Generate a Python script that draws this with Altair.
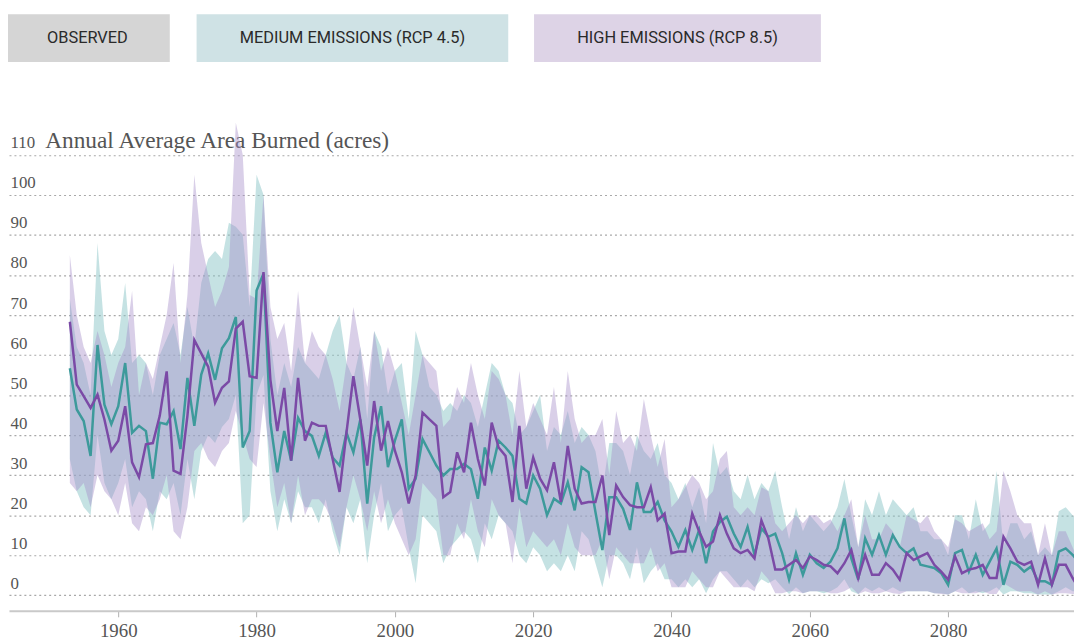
import altair as alt
import pandas as pd

# ---------------- data ----------------
years = list(range(1953, 2100))

# High emissions (RCP 8.5) median, lower and upper envelope
rcp85_mid = [
    68.3, 52.6, 49.7, 46.8, 50.1, 43.9, 36.1, 38.6, 47.2, 33.2, 29.5, 37.7, 38.0, 44.8, 55.9, 31.1, 30.3, 44.8, 63.7, 60.4, 57.1, 48.1, 51.8, 53.4, 66.6,
    68.3, 54.7, 54.3, 80.7, 53.8, 41.0, 51.8, 33.6, 54.3, 38.6, 43.1, 42.3, 42.3, 34.0, 25.8, 40.6, 54.7, 43.9, 32.4, 48.5, 36.1, 43.5, 36.1, 30.7,
    22.9, 29.9, 45.6, 43.9, 42.3, 24.5, 25.8, 35.7, 30.7, 43.1, 34.0, 27.4, 43.1, 36.9, 34.8, 23.3, 42.3, 26.6, 34.4, 29.1, 26.2, 33.2, 23.3, 37.3, 26.6,
    22.9, 23.3, 23.3, 29.9, 15.0, 27.4, 24.5, 22.5, 22.0, 22.0, 27.0, 18.7, 20.4, 10.5, 10.9, 10.9, 20.4, 15.9, 12.1, 13.4, 20.0, 15.4, 11.7, 10.5,
    11.3, 9.2, 18.7, 14.2, 6.4, 6.4, 7.6, 8.8, 6.8, 9.7, 8.8, 7.6, 7.2, 5.5, 8.0, 11.3, 4.3, 10.1, 5.1, 5.1, 8.0, 6.4, 3.9, 10.5, 8.8,
    9.7, 10.5, 7.6, 5.9, 3.9, 9.7, 5.5, 6.4, 6.8, 7.6, 4.3, 4.3, 14.6, 11.7, 8.4, 7.6, 8.4, 2.6, 9.2, 2.6, 7.6, 7.6, 4.3, 1.5,
]
rcp85_low = [
    28, 26, 28, 22, 30, 26, 24, 20, 28, 18, 16, 22, 20, 24, 30, 16, 14, 22, 36, 38, 34, 32, 36, 38, 46,
    40, 34, 32, 48, 34, 22, 28, 18, 30, 20, 24, 24, 22, 18, 12, 22, 30, 24, 16, 26, 18, 24, 18, 14,
    10, 14, 28, 26, 24, 10, 10, 18, 14, 24, 16, 12, 24, 20, 18, 8, 22, 12, 16, 14, 12, 14, 10, 18, 12,
    10, 10, 10, 14, 4, 12, 10, 8, 8, 8, 12, 6, 8, 2, 2, 2, 6, 4, 2, 2, 6, 4, 2, 2,
    2, 1, 6, 4, 0.5, 0.5, 1, 1, 0.5, 1, 1, 1, 0.5, 0.5, 1, 2, 0.3, 1, 0.5, 0.5, 1, 0.5, 0.3, 1, 1,
    1, 1, 0.5, 0.3, 0.2, 1, 0.5, 0.5, 0.5, 1, 0.3, 0.3, 3, 2, 1, 1, 1, 0.2, 1, 0.2, 0.5, 0.5, 0.3, 0.2,
]
rcp85_high = [
    85, 70, 62, 58, 66, 60, 52, 58, 62, 76, 50, 58, 54, 62, 70, 83, 58, 75, 105, 88, 80, 72, 76, 82, 118,
    110, 75, 74, 100, 72, 64, 68, 56, 76, 58, 66, 62, 60, 54, 46, 58, 72, 62, 52, 66, 56, 62, 56, 48,
    40, 50, 60, 58, 56, 42, 44, 52, 48, 58, 50, 44, 56, 54, 50, 40, 56, 42, 48, 44, 40, 52, 38, 56, 44,
    38, 40, 40, 44, 30, 46, 38, 40, 36, 49, 40, 32, 39, 22, 24, 27, 30, 28, 24, 26, 34, 36, 22, 20,
    22, 20, 27, 26, 18, 16, 18, 20, 18, 20, 20, 18, 19, 16, 20, 24, 12, 20, 14, 14, 18, 16, 12, 20, 19,
    18, 20, 16, 14, 12, 19, 18, 16, 17, 18, 14, 16, 31, 26, 20, 18, 18, 10, 18, 10, 16, 16, 12, 8,
]

# Medium emissions (RCP 4.5) median, lower and upper envelope
rcp45_mid = [
    56.7, 46.4, 43.5, 34.8, 62.5, 47.6, 42.7, 47.2, 58.0, 40.6, 42.3, 41.0, 29.1, 43.1, 42.7, 46.0, 36.5, 54.3, 42.3, 55.1, 60.4, 53.8, 61.7, 64.2, 69.5,
    36.9, 41.0, 76.1, 80.3, 43.1, 30.7, 41.0, 33.6, 44.3, 41.0, 39.8, 34.8, 40.6, 34.4, 32.4, 40.6, 35.7, 43.9, 22.9, 39.4, 47.2, 32.0, 38.6, 43.9,
    26.6, 29.1, 39.0, 35.7, 32.4, 29.9, 31.5, 31.5, 32.8, 31.5, 24.1, 36.9, 31.1, 38.6, 36.9, 34.8, 24.1, 22.9, 29.9, 26.6, 20.0, 24.1, 22.9, 28.2, 21.2,
    32.0, 30.7, 20.8, 11.3, 24.5, 24.5, 21.6, 16.3, 28.2, 20.8, 20.8, 23.3, 18.7, 15.9, 12.1, 16.3, 11.3, 16.3, 8.0, 15.9, 18.3, 19.6, 15.4, 12.1,
    17.1, 10.1, 16.7, 14.6, 15.4, 10.5, 3.9, 10.5, 5.1, 10.1, 8.0, 6.8, 8.4, 11.7, 19.2, 9.2, 3.9, 14.2, 10.1, 15.0, 10.1, 15.0, 12.1, 10.5, 11.7,
    7.6, 7.2, 6.8, 5.5, 2.6, 10.5, 11.3, 5.9, 10.1, 5.1, 8.4, 11.7, 2.6, 8.4, 7.6, 5.9, 7.2, 3.5, 3.5, 2.6, 10.9, 11.7, 10.1, 8.0,
]
rcp45_low = [
    34, 26, 22, 20, 40, 28, 24, 28, 34, 22, 26, 24, 16, 26, 24, 28, 20, 34, 24, 36, 40, 38, 42, 44, 50,
    18, 20, 50, 55, 26, 16, 24, 18, 26, 22, 22, 18, 24, 16, 10, 22, 18, 24, 8, 20, 28, 16, 20, 22,
    12, 3, 20, 18, 16, 8, 12, 14, 16, 14, 8, 18, 14, 20, 18, 16, 10, 8, 12, 10, 6, 8, 6, 10, 6,
    16, 14, 8, 2, 10, 10, 8, 4, 12, 3, 6, 8, 4, 4, 2, 4, 2, 4, 0.5, 4, 6, 6, 4, 2,
    4, 2, 4, 3, 4, 2, 0.3, 2, 0.5, 1, 1, 0.5, 1, 2, 4, 1, 0.3, 2, 1, 2, 1, 2, 1, 1, 1,
    1, 1, 0.5, 0.5, 0.2, 1, 2, 0.5, 1, 0.5, 1, 2, 0.2, 1, 1, 0.5, 0.5, 0.2, 0.2, 0.2, 1, 2, 1, 1,
]
rcp45_high = [
    74, 62, 58, 50, 88, 66, 60, 64, 78, 58, 60, 58, 50, 60, 64, 68, 60, 72, 62, 78, 84, 86, 84, 93, 92,
    90, 72, 105, 100, 64, 50, 58, 52, 62, 58, 56, 54, 60, 66, 70, 58, 54, 62, 44, 66, 62, 50, 56, 58,
    44, 66, 60, 52, 50, 46, 48, 46, 50, 48, 42, 50, 58, 56, 50, 48, 40, 42, 46, 50, 36, 42, 40, 46, 38,
    42, 40, 36, 26, 38, 38, 36, 30, 40, 36, 34, 38, 30, 28, 24, 28, 22, 27, 18, 38, 30, 32, 26, 24,
    30, 24, 28, 26, 31, 22, 14, 22, 16, 20, 18, 16, 18, 22, 29, 20, 12, 24, 20, 26, 20, 24, 22, 20, 22,
    16, 16, 14, 14, 10, 20, 20, 14, 24, 16, 18, 31, 12, 18, 18, 14, 16, 10, 12, 10, 21, 22, 20, 18,
]

y_ticks = [0, 10, 20, 30, 40, 50, 60, 70, 80, 90, 100, 110]
x_ticks = [1960, 1980, 2000, 2020, 2040, 2060, 2080]
button_labels = ["OBSERVED", "MEDIUM EMISSIONS (RCP 4.5)", "HIGH EMISSIONS (RCP 8.5)"]
button_fills = ["#d5d5d5", "#cfe2e5", "#ddd3e6"]
# button boxes in pixels relative to the plot area (left, right)
button_boxes = [(-4, 162), (189, 503), (529, 818)]

df = pd.DataFrame({
    "year": years,
    "p": rcp85_mid, "p_lo": rcp85_low, "p_hi": rcp85_high,
    "t": rcp45_mid, "t_lo": rcp45_low, "t_hi": rcp45_high,
})

SERIF = "Liberation Serif"

xscale = alt.Scale(domain=[1944.2, 2098.2], nice=False, zero=False)
yscale = alt.Scale(domain=[-3.9, 125], nice=False, zero=False)

xaxis = alt.Axis(
    values=x_ticks, format="d", grid=False, domain=True, domainColor="#c9c9c9",
    domainWidth=2, ticks=True, tickColor="#b0b0b0", tickSize=6, tickWidth=1,
    labelFont=SERIF, labelFontSize=19, labelColor="#555555", labelPadding=5,
    labelFlush=False, title=None,
)
yaxis = alt.Axis(
    values=y_ticks, grid=True, gridDash=[2, 3], gridColor="#a8a8a8", gridWidth=1.2,
    domain=False, ticks=False, tickSize=0, labelAlign="left",
    labelBaseline="alphabetic", labelPadding=-1, labelOffset=-7,
    labelFont=SERIF, labelFontSize=17, labelColor="#555555", labelFlush=False,
    title="Annual Average Area Burned (acres)", titleAngle=0, titleAlign="left",
    titleBaseline="alphabetic", titleX=36, titleY=53.5, titleFont=SERIF,
    titleFontSize=23.5, titleFontWeight="normal", titleColor="#555555",
)

X = alt.X("year:Q", scale=xscale, axis=xaxis)

base = alt.Chart(df)

band45 = base.mark_area(color="#8cc6c8", opacity=0.5, clip=True).encode(
    x=X, y=alt.Y("t_lo:Q", scale=yscale, axis=yaxis), y2="t_hi:Q")
band85 = base.mark_area(color="#a58cc8", opacity=0.42, clip=True).encode(
    x=X, y=alt.Y("p_lo:Q", scale=yscale, axis=yaxis), y2="p_hi:Q")
line45 = base.mark_line(color="#3d9a9b", strokeWidth=2.5, clip=True).encode(
    x=X, y=alt.Y("t:Q", scale=yscale, axis=yaxis))
line85 = base.mark_line(color="#7b4aa6", strokeWidth=2.5, clip=True).encode(
    x=X, y=alt.Y("p:Q", scale=yscale, axis=yaxis))

buttons = []
for lab, fill, (x0, x1) in zip(button_labels, button_fills, button_boxes):
    bdf = pd.DataFrame({"label": [lab]})
    rect = alt.Chart(bdf).mark_rect(color=fill).encode(
        x=alt.value(x0), x2=alt.value(x1), y=alt.value(-81), y2=alt.value(-33))
    txt = alt.Chart(bdf).mark_text(
        font="Roboto", fontSize=16.5, color="#2a2a2a", align="center", baseline="middle"
    ).encode(x=alt.value((x0 + x1) / 2), y=alt.value(-57), text="label:N")
    buttons += [rect, txt]

chart = alt.layer(band45, band85, line45, line85, *buttons).properties(
    width=1073, height=520,
    autosize=alt.AutoSizeParams(type="none"),
    padding={"left": 1, "top": 85, "right": 0, "bottom": 29},
    background="white",
).configure_view(stroke=None)

chart.save("out.html", embed_options={"renderer": "svg", "actions": False})
